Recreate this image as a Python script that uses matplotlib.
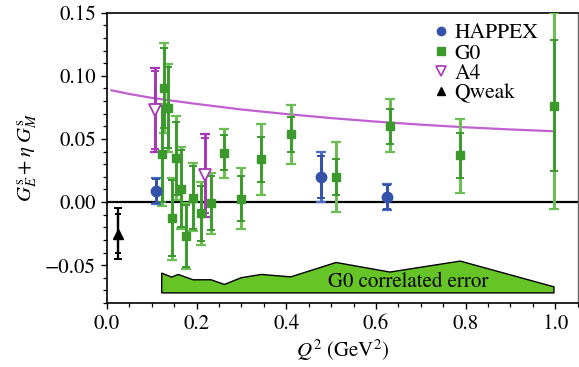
import matplotlib
matplotlib.use("Agg")
import matplotlib.pyplot as plt
import numpy as np
from matplotlib.ticker import MultipleLocator

plt.rcParams['font.family'] = ['STIXGeneral', 'Liberation Serif', 'DejaVu Serif']
plt.rcParams['mathtext.fontset'] = 'stix'

# ---- data ----
happex_q2 = [0.109, 0.477, 0.624]
happex_val = [0.0087, 0.0198, 0.0040]
happex_tot = [0.0105, 0.0197, 0.0104]
happex_stat = [0.0095, 0.0170, 0.0095]

g0_q2 = [0.122, 0.128, 0.136, 0.144, 0.153, 0.164, 0.177, 0.192, 0.210,
         0.232, 0.262, 0.299, 0.344, 0.410, 0.511, 0.631, 0.788, 0.997]
g0_val = [0.0377, 0.0904, 0.0746, -0.0129, 0.0345, 0.0106, -0.0269, 0.0035,
          -0.0089, -0.0010, 0.0390, 0.0027, 0.0337, 0.0535, 0.0198, 0.0600,
          0.0369, 0.0764]
g0_tot_lo = [0.0405, 0.0354, 0.0346, 0.0329, 0.0330, 0.0322, 0.0261, 0.0264,
             0.0253, 0.0245, 0.0197, 0.0237, 0.0284, 0.0232, 0.0277, 0.0205,
             0.0300, 0.0816]
g0_tot_hi = [0.0403, 0.0356, 0.0344, 0.0319, 0.0340, 0.0331, 0.0264, 0.0276,
             0.0247, 0.0237, 0.0190, 0.0239, 0.0282, 0.0235, 0.0276, 0.0217,
             0.0290, 0.0731]
g0_stat = [0.0380, 0.0320, 0.0320, 0.0300, 0.0290, 0.0305, 0.0245, 0.0249,
           0.0217, 0.0214, 0.0140, 0.0178, 0.0180, 0.0140, 0.0140, 0.0140,
           0.0180, 0.0520]

a4_q2 = [0.108, 0.219]
a4_val = [0.0730, 0.0211]
a4_tot = [0.0330, 0.0330]
a4_stat = [0.0310, 0.0300]

qweak_q2 = [0.025]
qweak_val = [-0.0250]
qweak_tot = [0.0205]
qweak_stat = [0.0154]

curve_q2 = [0.01, 0.05, 0.1, 0.2, 0.3, 0.4, 0.5, 0.6, 0.7, 0.8, 0.9, 0.995]
curve_val = [0.0885, 0.0856, 0.0825, 0.0777, 0.0733, 0.0697, 0.0665,
             0.0637, 0.0613, 0.0592, 0.0575, 0.0561]

band_q2 = [0.122, 0.144, 0.159, 0.192, 0.232, 0.262, 0.299, 0.344, 0.410,
           0.511, 0.631, 0.788, 0.997]
band_top = [-0.0563, -0.0595, -0.0574, -0.0616, -0.0616, -0.0653, -0.0600,
            -0.0574, -0.0593, -0.0479, -0.0555, -0.0468, -0.0672]
band_base = -0.0720

# ---- colours ----
c_happex = '#3352a8'
c_happex_l = '#4a6cc4'
c_g0 = '#3b9a2b'
c_g0_l = '#6dbd55'
c_a4 = '#a837b8'
c_curve = '#c060d0'
c_band = '#66c427'

fig = plt.figure(figsize=(5.79, 3.67), dpi=100)
ax = fig.add_axes([0.1848, 0.1744, 0.8130, 0.7910])

ax.set_xlim(0, 1.05)
ax.set_ylim(-0.08, 0.15)

# band
bx = [band_q2[0]] + band_q2 + [band_q2[-1]]
by = [band_base] + band_top + [band_base]
ax.fill(bx, by, facecolor=c_band, edgecolor='black', linewidth=1.0, zorder=1)
ax.text(0.672, -0.0637, 'G0 correlated error', fontsize=15,
        ha='center', va='center', zorder=2)

ax.axhline(0, color='black', linewidth=1.6, zorder=2)

ax.plot(curve_q2, curve_val, color=c_curve, linewidth=1.6, zorder=3)

# G0
ax.errorbar(g0_q2, g0_val, yerr=[g0_tot_lo, g0_tot_hi], fmt='none',
            ecolor=c_g0_l, elinewidth=2.2, capsize=3.5, capthick=1.6, zorder=4)
ax.errorbar(g0_q2, g0_val, yerr=g0_stat, fmt='none',
            ecolor=c_g0, elinewidth=2.0, capsize=3.0, capthick=1.4, zorder=5)
ax.plot(g0_q2, g0_val, 's', color=c_g0, markersize=5.5, zorder=6)

# HAPPEX
ax.errorbar(happex_q2, happex_val, yerr=happex_tot, fmt='none',
            ecolor=c_happex_l, elinewidth=2.2, capsize=3.5, capthick=1.6, zorder=4)
ax.errorbar(happex_q2, happex_val, yerr=happex_stat, fmt='none',
            ecolor=c_happex, elinewidth=2.0, capsize=3.0, capthick=1.4, zorder=5)
ax.plot(happex_q2, happex_val, 'o', color=c_happex, markersize=7.5, zorder=6)

# A4
ax.errorbar(a4_q2, a4_val, yerr=a4_tot, fmt='none',
            ecolor=c_a4, elinewidth=2.0, capsize=3.5, capthick=1.6, zorder=4)
ax.errorbar(a4_q2, a4_val, yerr=a4_stat, fmt='none',
            ecolor=c_a4, elinewidth=2.0, capsize=3.0, capthick=1.4, zorder=5)
ax.plot(a4_q2, a4_val, 'v', markerfacecolor='white', markeredgecolor=c_a4,
        markeredgewidth=1.3, markersize=8, zorder=6)

# Qweak
ax.errorbar(qweak_q2, qweak_val, yerr=qweak_tot, fmt='none',
            ecolor='black', elinewidth=1.6, capsize=3.0, capthick=1.4, zorder=4)
ax.errorbar(qweak_q2, qweak_val, yerr=qweak_stat, fmt='none',
            ecolor='black', elinewidth=1.6, capsize=2.5, capthick=1.4, zorder=5)
ax.plot(qweak_q2, qweak_val, '^', color='black', markersize=7, zorder=6)

# legend handles
h1, = ax.plot([], [], 'o', color=c_happex, markersize=6)
h2, = ax.plot([], [], 's', color=c_g0, markersize=5.5)
h3, = ax.plot([], [], 'v', markerfacecolor='white', markeredgecolor=c_a4,
              markeredgewidth=1.2, markersize=6.5)
h4, = ax.plot([], [], '^', color='black', markersize=6)
leg = ax.legend([h1, h2, h3, h4], ['HAPPEX', 'G0', 'A4', 'Qweak'],
                loc='upper left', bbox_to_anchor=(0.66, 1.015), frameon=False,
                prop={'family': 'STIXGeneral', 'size': 15.5},
                handlelength=0.75, handletextpad=0.25,
                labelspacing=0.0, borderpad=0.2)

# ticks
ax.set_xticks([0.0, 0.2, 0.4, 0.6, 0.8, 1.0])
ax.set_xticklabels(['0.0', '0.2', '0.4', '0.6', '0.8', '1.0'])
ax.set_yticks([-0.05, 0.0, 0.05, 0.10, 0.15])
ax.set_yticklabels(['\u22120.05', '0.00', '0.05', '0.10', '0.15'])
ax.xaxis.set_minor_locator(MultipleLocator(0.05))
ax.yaxis.set_minor_locator(MultipleLocator(0.01))
ax.tick_params(axis='both', which='major', direction='out', length=4.5,
               width=1.0, labelsize=15, top=False, right=False)
ax.tick_params(axis='both', which='minor', direction='out', length=3,
               width=0.9, top=False, right=False)
for s in ax.spines.values():
    s.set_linewidth(1.2)
ax.spines['right'].set_color('#666666')
ax.spines['right'].set_linewidth(1.0)

ax.set_xlabel(r'$Q^2$ (GeV$^2$)', fontsize=15, labelpad=3)
ax.set_ylabel(r'$G_E^{\mathrm{s}}+\eta\;G_M^{\mathrm{s}}$', fontsize=15,
              labelpad=4)

fig.savefig('out.png', dpi=100)
